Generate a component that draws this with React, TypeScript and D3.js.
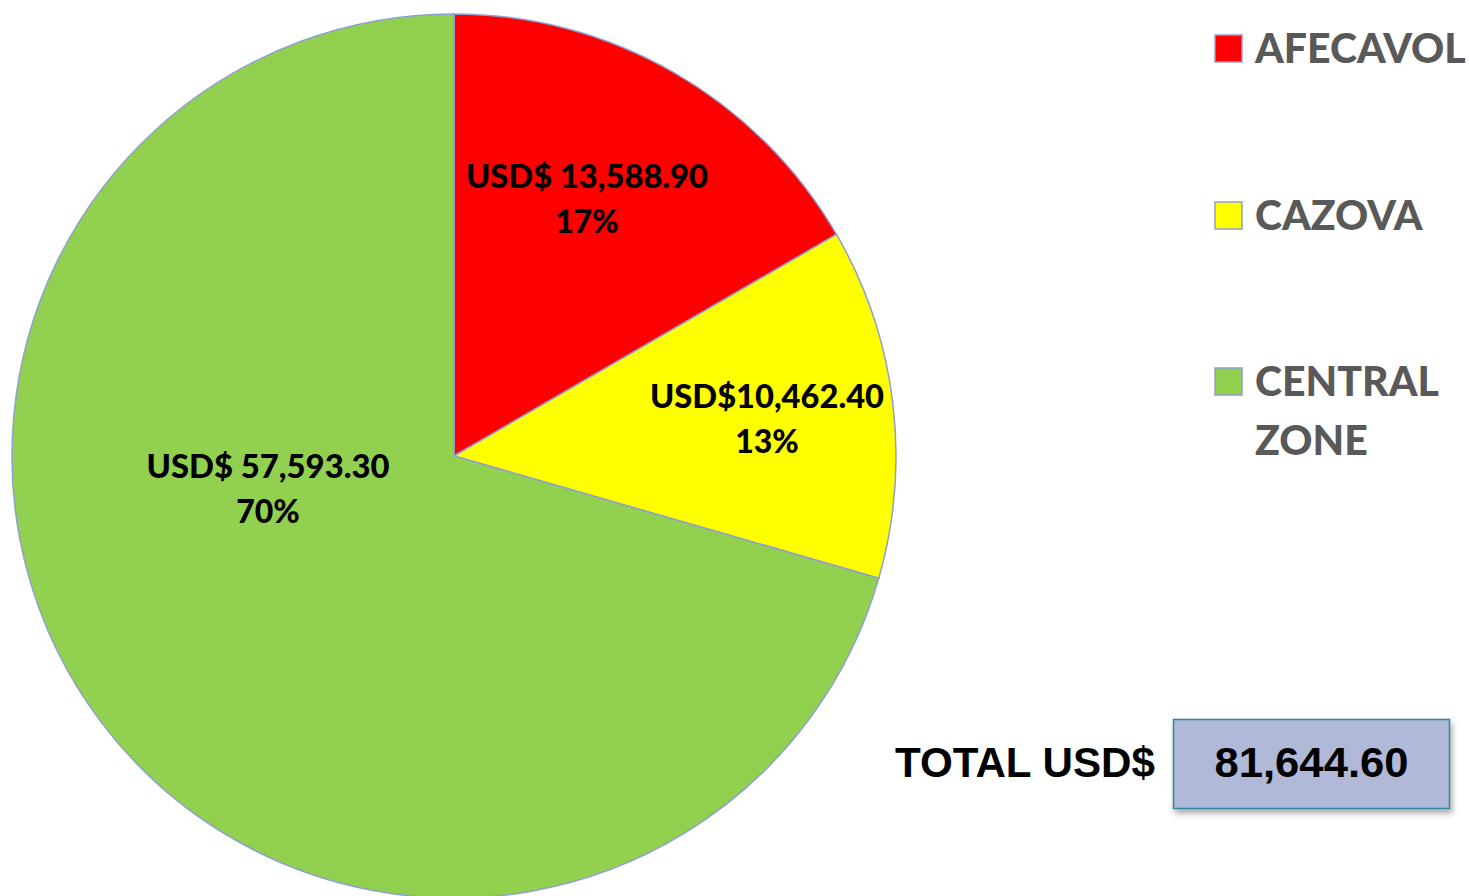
import React from "react";
import * as d3 from "d3";

const categories = ["AFECAVOL", "CAZOVA", "CENTRAL ZONE"];
const values = [13588.9, 10462.4, 57593.3];
const valueLabels = ["USD$ 13,588.90", "USD$10,462.40", "USD$ 57,593.30"];
const percentLabels = ["17%", "13%", "70%"];
const colors = ["#FF0000", "#FFFF00", "#92D050"];
const legendLines = [["AFECAVOL"], ["CAZOVA"], ["CENTRAL", "ZONE"]];
const totalLabel = "TOTAL USD$";
const totalValue = "81,644.60";

export default function App() {
  const W = 1469, H = 896;
  const cx = 454, cy = 456, r = 442;
  const pie = d3.pie<number>().sort(null).value((d) => d)(values);
  const arc = d3.arc<d3.PieArcDatum<number>>().innerRadius(0).outerRadius(r);
  const labelPos = [
    { x: 587, y: 188 },
    { x: 767, y: 408 },
    { x: 268, y: 478 },
  ];
  const labelWidths = [242, 234, 243];
  const legendY = [48, 215, 381];
  const lf = "Lato, 'Open Sans', sans-serif";
  return (
    <svg width={W} height={H} style={{ position: "absolute", left: 0, top: 0 }}>
      <defs>
        <filter id="sh" x="-10%" y="-10%" width="130%" height="140%">
          <feDropShadow dx="2" dy="4" stdDeviation="3" floodColor="#000" floodOpacity="0.35" />
        </filter>
      </defs>
      <rect width={W} height={H} fill="#fff" />
      <g transform={`translate(${cx},${cy})`}>
        {pie.map((p, i) => (
          <path key={i} d={arc(p) || ""} fill={colors[i]} stroke="#8E9FD0" strokeWidth={1.5} />
        ))}
      </g>
      {pie.map((p, i) => (
        <g key={"l" + i} fontFamily={lf} fontWeight={900} fontSize={32} fill="#000" textAnchor="middle">
          <text x={labelPos[i].x} y={labelPos[i].y} textLength={labelWidths[i]} lengthAdjust="spacingAndGlyphs">{valueLabels[i]}</text>
          <text x={labelPos[i].x} y={labelPos[i].y + 45}>{percentLabels[i]}</text>
        </g>
      ))}
      {categories.map((c, i) => (
        <g key={"lg" + i}>
          <rect x={1215} y={legendY[i] - 13} width={27} height={27} fill={colors[i]} stroke="#8E9FD0" strokeWidth={1.5} />
          {legendLines[i].map((t, j) => (
            <text key={j} x={1255} y={legendY[i] + 15 + j * 59} fontFamily={lf} fontWeight={900} fontSize={41} fill="#595959">{t}</text>
          ))}
        </g>
      ))}
      <text x={895} y={777} fontFamily="'Liberation Sans', Arial, sans-serif" fontWeight="bold" fontSize={43} fill="#000" textLength={260} lengthAdjust="spacingAndGlyphs">{totalLabel}</text>
      <rect x={1173.5} y={719.5} width={276} height={89} fill="#B0BAD8" stroke="#31849B" strokeWidth={1.5} filter="url(#sh)" />
      <text x={1311.5} y={777} textAnchor="middle" fontFamily="'Liberation Sans', Arial, sans-serif" fontWeight="bold" fontSize={43} fill="#000" textLength={194} lengthAdjust="spacingAndGlyphs">{totalValue}</text>
    </svg>
  );
}
